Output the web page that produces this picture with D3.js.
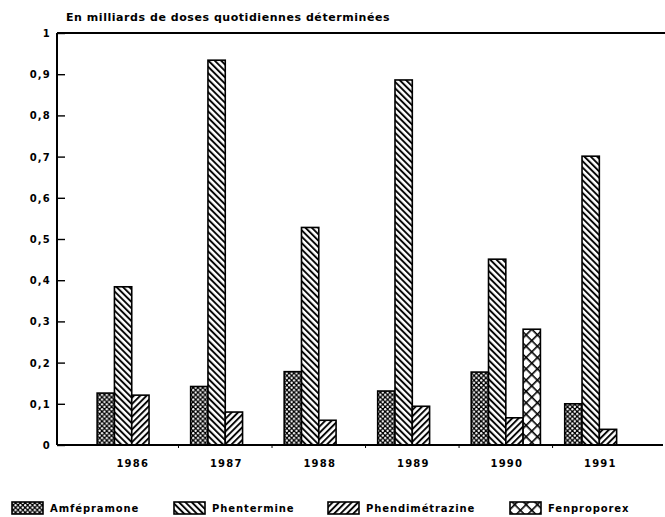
<!DOCTYPE html>
<html><head><meta charset="utf-8">
<script src="https://cdn.jsdelivr.net/npm/d3@7"></script>
<style>
body{margin:0;background:#fff;}
text{font-family:"DejaVu Sans",Arial,sans-serif;font-weight:bold;fill:#000;}
</style></head>
<body>
<svg id="chart" width="665" height="517"></svg>
<script>
const years = ["1986","1987","1988","1989","1990","1991"];
const seriesNames = ["Amfépramone","Phentermine","Phendimétrazine","Fenproporex"];
const amfepramone = [0.126, 0.142, 0.178, 0.131, 0.177, 0.100];
const phentermine = [0.384, 0.934, 0.528, 0.886, 0.451, 0.701];
const phendimetrazine = [0.121, 0.080, 0.060, 0.094, 0.066, 0.038];
const fenproporex = [null, null, null, null, 0.281, null];
const yTicks = [0,0.1,0.2,0.3,0.4,0.5,0.6,0.7,0.8,0.9,1];
const yTitle = "En milliards de doses quotidiennes déterminées";

const seriesValues = [amfepramone, phentermine, phendimetrazine, fenproporex];
const patternIds = ["pAmf","pPhen","pPhend","pFen"];

const svg = d3.select("#chart");
const defs = svg.append("defs");

const p1 = defs.append("pattern").attr("id","pAmf").attr("patternUnits","userSpaceOnUse")
  .attr("width",4.8).attr("height",4.8);
p1.append("rect").attr("width",4.8).attr("height",4.8).attr("fill","#000");
p1.append("circle").attr("cx",1.2).attr("cy",1.2).attr("r",1.15).attr("fill","#fff");
p1.append("circle").attr("cx",3.6).attr("cy",3.6).attr("r",1.15).attr("fill","#fff");

const p2 = defs.append("pattern").attr("id","pPhen").attr("patternUnits","userSpaceOnUse")
  .attr("width",4.5).attr("height",10).attr("patternTransform","rotate(-45)");
p2.append("rect").attr("width",4.5).attr("height",10).attr("fill","#fff");
p2.append("line").attr("x1",1).attr("x2",1).attr("y1",0).attr("y2",10).attr("stroke","#000").attr("stroke-width",1.9);

const p3 = defs.append("pattern").attr("id","pPhend").attr("patternUnits","userSpaceOnUse")
  .attr("width",4.5).attr("height",10).attr("patternTransform","rotate(45)");
p3.append("rect").attr("width",4.5).attr("height",10).attr("fill","#fff");
p3.append("line").attr("x1",1).attr("x2",1).attr("y1",0).attr("y2",10).attr("stroke","#000").attr("stroke-width",1.9);

const p4 = defs.append("pattern").attr("id","pFen").attr("patternUnits","userSpaceOnUse")
  .attr("width",8).attr("height",8).attr("patternTransform","translate(0,0) rotate(45)");
p4.append("rect").attr("width",8).attr("height",8).attr("fill","#fff");
p4.append("line").attr("x1",0.8).attr("x2",0.8).attr("y1",0).attr("y2",8).attr("stroke","#000").attr("stroke-width",1.6);
p4.append("line").attr("y1",0.8).attr("y2",0.8).attr("x1",0).attr("x2",8).attr("stroke","#000").attr("stroke-width",1.6);

const mLeft = 57, mRight = 663, mTop = 33, mBottom = 445;

const y = d3.scaleLinear().domain([0,1]).range([mBottom, mTop]);
const x0 = d3.scaleBand().domain(years).range([mLeft, mRight]).paddingInner(0.26).paddingOuter(0.37).align(0.58);
const x1 = d3.scaleBand().domain(seriesNames).range([0, x0.bandwidth()]);

svg.append("text").attr("x",66).attr("y",21).attr("font-size",11).attr("letter-spacing",0.55).text(yTitle);

const g = svg.append("g");
years.forEach((yr,i)=>{
  seriesNames.forEach((s,j)=>{
    const v = seriesValues[j][i];
    if(v==null) return;
    g.append("rect")
      .attr("x", x0(yr)+x1(s))
      .attr("y", y(v))
      .attr("width", x1.bandwidth())
      .attr("height", y(0)-y(v))
      .attr("fill", `url(#${patternIds[j]})`)
      .attr("stroke","#000").attr("stroke-width",1.6);
  });
});

const yAxis = d3.axisRight(y).tickValues(yTicks).tickSize(8).tickFormat("");
const ya = svg.append("g").attr("transform",`translate(${mLeft},0)`).call(yAxis);
ya.select(".domain").remove();
ya.selectAll("line").attr("stroke","#000").attr("stroke-width",1.4);

svg.append("line").attr("x1",mLeft).attr("x2",mLeft).attr("y1",mTop).attr("y2",mBottom).attr("stroke","#000").attr("stroke-width",2);
svg.append("line").attr("x1",mLeft).attr("x2",665).attr("y1",mTop).attr("y2",mTop).attr("stroke","#000").attr("stroke-width",2);
svg.append("line").attr("x1",mLeft).attr("x2",mRight).attr("y1",mBottom).attr("y2",mBottom).attr("stroke","#000").attr("stroke-width",2);

svg.append("g").selectAll("text").data(yTicks).join("text")
  .attr("x",51).attr("y",d=>y(d)+4).attr("text-anchor","end")
  .attr("font-size",10).attr("letter-spacing",1.2)
  .text(d=> d===0 ? "0" : d===1 ? "1" : d3.format(".1f")(d).replace(".",","));

const gaps = years.slice(1).map(yr=> x0(yr) - (x0.step()-x0.bandwidth())/2);
svg.append("g").selectAll("line").data(gaps).join("line")
  .attr("x1",d=>d).attr("x2",d=>d).attr("y1",mBottom).attr("y2",mBottom+3).attr("stroke","#000").attr("stroke-width",1);

svg.append("g").selectAll("text").data(years).join("text")
  .attr("x",d=>x0(d)+x0.bandwidth()/2+1).attr("y",467).attr("text-anchor","middle")
  .attr("font-size",10).attr("letter-spacing",1.2).text(d=>d);

const legX = [12, 174, 328, 510];
const leg = svg.append("g");
seriesNames.forEach((s,j)=>{
  leg.append("rect").attr("x",legX[j]).attr("y",502).attr("width",31).attr("height",12)
    .attr("fill",`url(#${patternIds[j]})`).attr("stroke","#000").attr("stroke-width",1.6);
  leg.append("text").attr("x",legX[j]+38).attr("y",512).attr("font-size",10).attr("letter-spacing",0.9).text(s);
});
</script>
</body></html>
